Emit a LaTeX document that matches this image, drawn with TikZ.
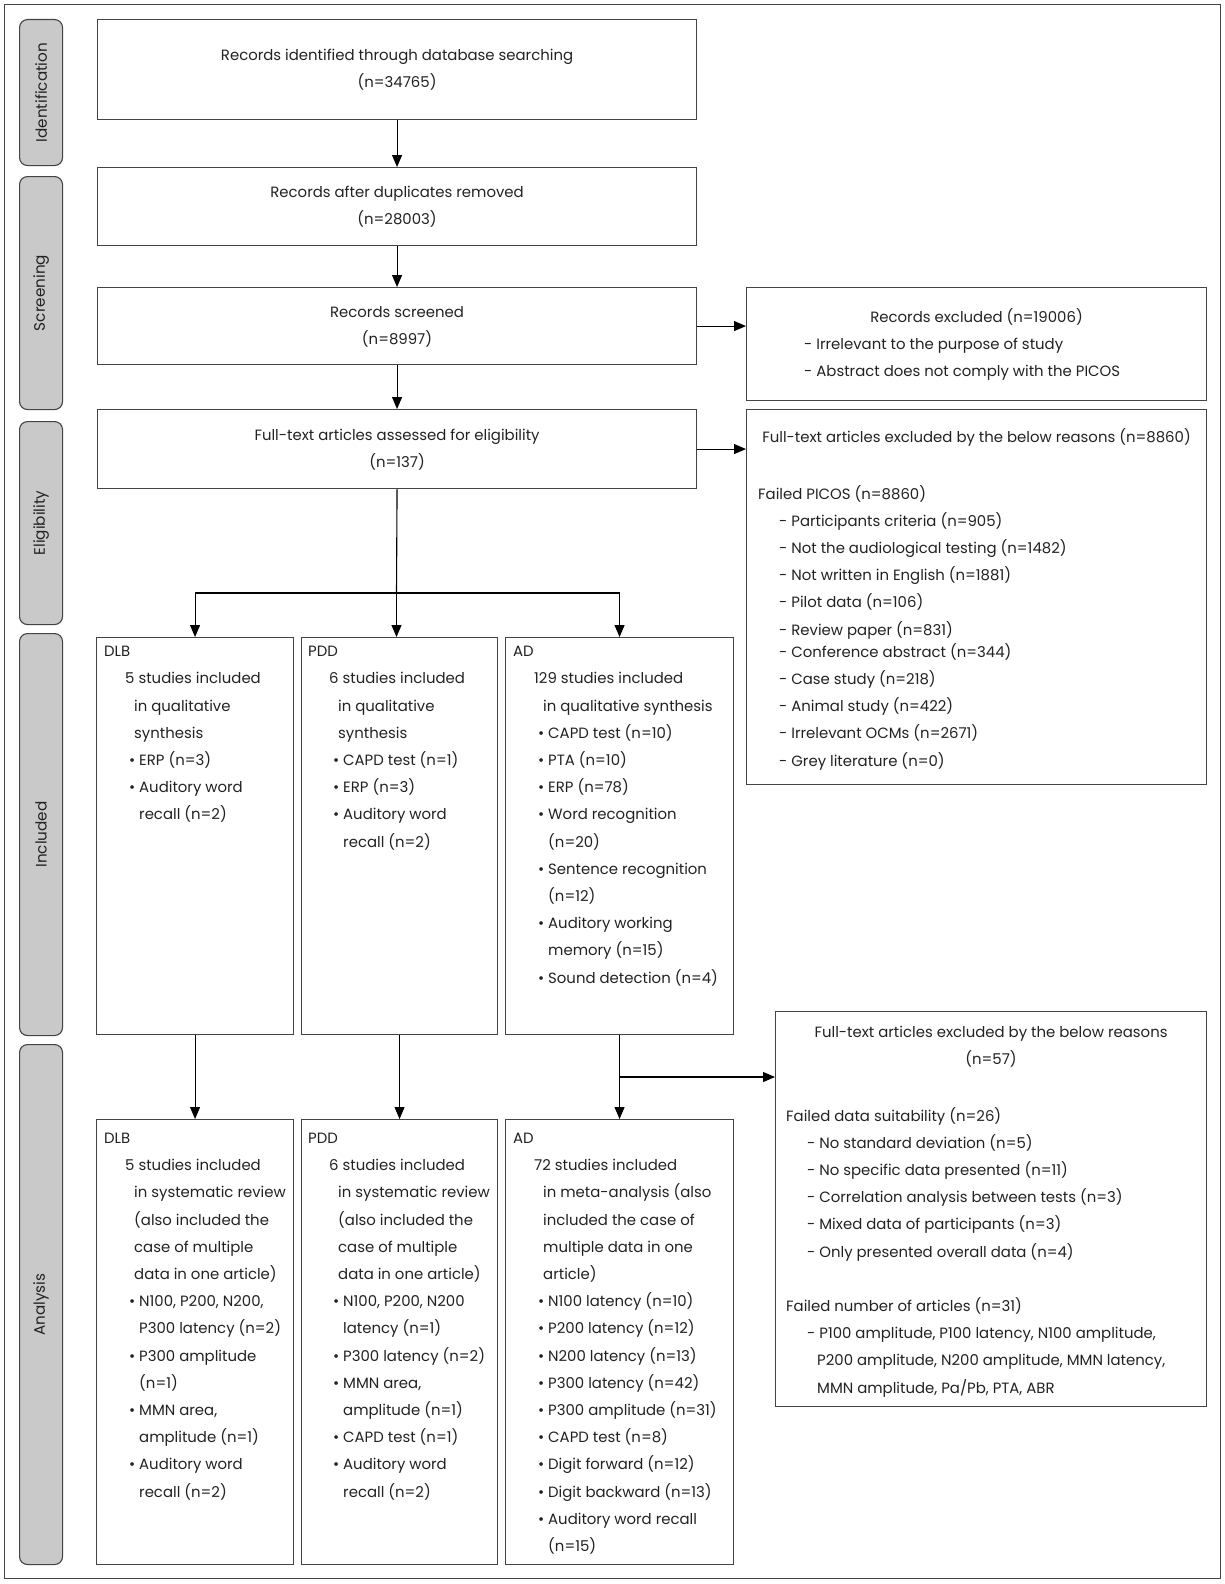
\documentclass[tikz,border=0pt]{standalone}
\usepackage{fontspec}
\setmainfont{Poppins}
\usetikzlibrary{arrows.meta}
\definecolor{ln}{HTML}{444444}
\definecolor{tx}{HTML}{222222}
\definecolor{lab}{HTML}{C9C9C9}
\newcommand\Lone[1]{\hspace*{21pt}#1}
\newcommand\Ltwo[1]{\hspace*{30pt}#1}
\newcommand\Bul[1]{\hspace*{25pt}\makebox[10pt][l]{\textbullet}#1}
\newcommand\Bc[1]{\hspace*{35pt}#1}
\newcommand\Dsh[1]{\hspace*{21pt}#1}
\newcommand\Dc[1]{\hspace*{31pt}#1}
\newcommand\st{\rule{0pt}{12pt}}
\begin{document}
\begin{tikzpicture}[x=1pt,y=-1pt,
  box/.style={draw=ln, line width=1.1pt, inner sep=0pt, anchor=north west},
  side/.style={draw=ln, fill=lab, line width=1.1pt, rounded corners=8pt, inner sep=0pt, anchor=north west, minimum width=43pt},
  txt/.style={inner sep=0pt, text=tx, font=\fontsize{14.9}{27.2}\selectfont, align=left, anchor=north west},
  ctxt/.style={inner sep=0pt, text=tx, font=\fontsize{14.9}{27.2}\selectfont, align=center},
  btxt/.style={inner sep=0pt, text=tx, font=\fontsize{14.9}{27.2}\selectfont, anchor=base},
  sidetxt/.style={inner sep=0pt, text=tx, font=\fontsize{15.2}{16}\selectfont, rotate=90},
  arr/.style={draw=black, line width=1.1pt, -{Triangle[length=12pt,width=10pt]}},
  lnk/.style={draw=black, line width=1.1pt}]
\useasboundingbox (0,0) rectangle (1225,1584);
\fill[white] (0,0) rectangle (1225,1584);
% frame
\node[box, minimum width=1216pt, minimum height=1574pt] (frame) at (4,4) {};
% side labels
\node[side, minimum height=146pt] (sid) at (19,19) {};
\node[side, minimum height=233pt] (sscr) at (19,176) {};
\node[side, minimum height=203pt] (selig) at (19,421) {};
\node[side, minimum height=402pt] (sincl) at (19,633) {};
\node[side, minimum height=520pt] (sana) at (19,1044) {};
\node[sidetxt] (tid) at (sid.center) {Identification};
\node[sidetxt] (tscr) at (sscr.center) {Screening};
\node[sidetxt] (telig) at (selig.center) {Eligibility};
\node[sidetxt] (tincl) at (sincl.center) {Included};
\node[sidetxt] (tana) at (sana.center) {Analysis};
% main boxes
\node[box, minimum width=599pt, minimum height=100pt] (b1) at (97,19) {};
\node[box, minimum width=599pt, minimum height=78pt] (b2) at (97,167) {};
\node[box, minimum width=599pt, minimum height=77pt] (b3) at (97,287) {};
\node[box, minimum width=599pt, minimum height=79pt] (b4) at (97,409) {};
\node[ctxt] (tb1) at (b1.center) {\st Records identified through database searching\\(n=34765)};
\node[ctxt] (tb2) at (b2.center) {\st Records after duplicates removed\\(n=28003)};
\node[ctxt] (tb3) at (b3.center) {\st Records screened\\(n=8997)};
\node[ctxt] (tb4) at (b4.center) {\st Full-text articles assessed for eligibility\\(n=137)};
% right boxes
\node[box, minimum width=460pt, minimum height=113pt] (r1) at (746,287) {};
\node[box, minimum width=460pt, minimum height=375pt] (r2) at (746,409) {};
\node[box, minimum width=431pt, minimum height=395pt] (r3) at (775,1011) {};
\node[btxt] (tr1h) at (r1.center |- 0,322) {Records excluded (n=19006)};
\node[txt] (tr1) at (804,337.4) {\st- Irrelevant to the purpose of study\\- Abstract does not comply with the PICOS};
\node[btxt] (tr2h) at (r2.center |- 0,442.3) {Full-text articles excluded by the below reasons (n=8860)};
\node[txt] (tr2) at (758,485) {\st Failed PICOS (n=8860)\\
\Dsh{- Participants criteria (n=905)}\\
\Dsh{- Not the audiological testing (n=1482)}\\
\Dsh{- Not written in English (n=1881)}\\
\Dsh{- Pilot data (n=106)}\\
\Dsh{- Review paper (n=831)}\\[-5pt]
\Dsh{- Conference abstract (n=344)}\\
\Dsh{- Case study (n=218)}\\
\Dsh{- Animal study (n=422)}\\
\Dsh{- Irrelevant OCMs (n=2671)}\\
\Dsh{- Grey literature (n=0)}};
\node[ctxt, anchor=north] (tr3h) at (r3.center |- 0,1025.2) {\st Full-text articles excluded by the below reasons\\(n=57)};
\node[txt] (tr3) at (786,1107) {\st Failed data suitability (n=26)\\
\Dsh{- No standard deviation (n=5)}\\
\Dsh{- No specific data presented (n=11)}\\
\Dsh{- Correlation analysis between tests (n=3)}\\
\Dsh{- Mixed data of participants (n=3)}\\
\Dsh{- Only presented overall data (n=4)}\\[27.2pt]
Failed number of articles (n=31)\\
\Dsh{- P100 amplitude, P100 latency, N100 amplitude,}\\
\Dc{P200 amplitude, N200 amplitude, MMN latency,}\\
\Dc{MMN amplitude, Pa/Pb, PTA, ABR}};
% included boxes
\node[box, minimum width=197pt, minimum height=397pt] (i1) at (96,637) {};
\node[box, minimum width=196pt, minimum height=397pt] (i2) at (301,637) {};
\node[box, minimum width=228pt, minimum height=397pt] (i3) at (505,637) {};
\node[txt] (ti1) at (104,644.5) {\st DLB\\ \Lone{5 studies included}\\ \Ltwo{in qualitative}\\ \Ltwo{synthesis}\\ \Bul{ERP (n=3)}\\ \Bul{Auditory word}\\ \Bc{recall (n=2)}};
\node[txt] (ti2) at (308,644.5) {\st PDD\\ \Lone{6 studies included}\\ \Ltwo{in qualitative}\\ \Ltwo{synthesis}\\ \Bul{CAPD test (n=1)}\\ \Bul{ERP (n=3)}\\ \Bul{Auditory word}\\ \Bc{recall (n=2)}};
\node[txt] (ti3) at (513,644.5) {\st AD\\ \Lone{129 studies included}\\ \Ltwo{in qualitative synthesis}\\ \Bul{CAPD test (n=10)}\\ \Bul{PTA (n=10)}\\ \Bul{ERP (n=78)}\\ \Bul{Word recognition}\\ \Bc{(n=20)}\\ \Bul{Sentence recognition}\\ \Bc{(n=12)}\\ \Bul{Auditory working}\\ \Bc{memory (n=15)}\\ \Bul{Sound detection (n=4)}};
% analysis boxes
\node[box, minimum width=197pt, minimum height=445pt] (a1) at (96,1119) {};
\node[box, minimum width=196pt, minimum height=445pt] (a2) at (301,1119) {};
\node[box, minimum width=228pt, minimum height=445pt] (a3) at (505,1119) {};
\node[txt] (ta1) at (104,1131.3) {\st DLB\\ \Lone{5 studies included}\\ \Ltwo{in systematic review}\\ \Ltwo{(also included the}\\ \Ltwo{case of multiple}\\ \Ltwo{data in one article)}\\ \Bul{N100, P200, N200,}\\ \Bc{P300 latency (n=2)}\\ \Bul{P300 amplitude}\\ \Bc{(n=1)}\\ \Bul{MMN area,}\\ \Bc{amplitude (n=1)}\\ \Bul{Auditory word}\\ \Bc{recall (n=2)}};
\node[txt] (ta2) at (308,1131.3) {\st PDD\\ \Lone{6 studies included}\\ \Ltwo{in systematic review}\\ \Ltwo{(also included the}\\ \Ltwo{case of multiple}\\ \Ltwo{data in one article)}\\ \Bul{N100, P200, N200}\\ \Bc{latency (n=1)}\\ \Bul{P300 latency (n=2)}\\ \Bul{MMN area,}\\ \Bc{amplitude (n=1)}\\ \Bul{CAPD test (n=1)}\\ \Bul{Auditory word}\\ \Bc{recall (n=2)}};
\node[txt] (ta3) at (513,1131.3) {\st AD\\ \Lone{72 studies included}\\ \Ltwo{in meta-analysis (also}\\ \Ltwo{included the case of}\\ \Ltwo{multiple data in one}\\ \Ltwo{article)}\\ \Bul{N100 latency (n=10)}\\ \Bul{P200 latency (n=12)}\\ \Bul{N200 latency (n=13)}\\ \Bul{P300 latency (n=42)}\\ \Bul{P300 amplitude (n=31)}\\ \Bul{CAPD test (n=8)}\\ \Bul{Digit forward (n=12)}\\ \Bul{Digit backward (n=13)}\\ \Bul{Auditory word recall}\\ \Bc{(n=15)}};
% connectors
\draw[arr] (b1.south) -- (b2.north);
\draw[arr] (b2.south) -- (b3.north);
\draw[arr] (b3.south) -- (b4.north);
\draw[arr] (b3.east) -- (b3.east -| r1.west);
\draw[arr] (b4.east) -- (b4.east -| r2.west);
\coordinate (br) at (396.5,593);
\draw[lnk] (b4.south) -- (br);
\draw[arr] (br) -- (br |- i2.north);
\draw[arr] (br) -| (i1.north);
\draw[arr] (br) -| (i3.north);
\draw[arr] (i1.south) -- (a1.north);
\draw[arr] (i2.south) -- (a2.north);
\draw[arr] (i3.south) -- (a3.north);
\coordinate (br2) at (619,1077);
\draw[arr] (br2) -- (br2 -| r3.west);
\end{tikzpicture}
\end{document}
